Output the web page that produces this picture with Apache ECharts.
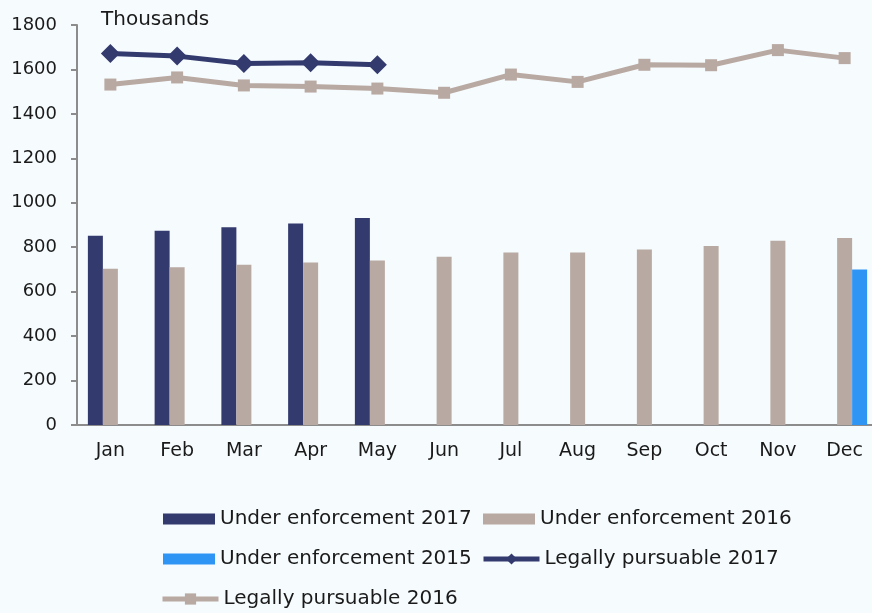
<!DOCTYPE html>
<html>
<head>
<meta charset="utf-8">
<script src="https://cdn.jsdelivr.net/npm/echarts@6/dist/echarts.min.js"></script>
<style>
  html, body { margin: 0; padding: 0; background: #f6fbfe; overflow: hidden; }
  #chart { width: 878px; height: 613px; }
</style>
</head>
<body>
<div id="chart"></div>
<script>
var months = ['Jan', 'Feb', 'Mar', 'Apr', 'May', 'Jun', 'Jul', 'Aug', 'Sep', 'Oct', 'Nov', 'Dec'];
var yTicks = [0, 200, 400, 600, 800, 1000, 1200, 1400, 1600, 1800];

var enforce2017 = [852, 874, 890, 907, 932, null, null, null, null, null, null, null];
var enforce2016 = [703, 710, 721, 731, 740, 757, 776, 776, 790, 806, 829, 841];
var enforce2015 = [null, null, null, null, null, null, null, null, null, null, null, 700];
var legal2017 = [1672, 1660, 1627, 1630, 1621, null, null, null, null, null, null, null];
var legal2016 = [1532, 1564, 1528, 1523, 1514, 1495, 1577, 1544, 1621, 1619, 1687, 1651];

var navy = '#333a6e';
var beige = '#b8a9a2';
var blue = '#2e95f5';
var font = 'DejaVu Sans';

var chart = echarts.init(document.getElementById('chart'));

// one legend per item so each sits where the original puts it
function legendAt(name, left, top, isLine) {
  var lg = {
    data: [isLine ? { name: name, lineStyle: { width: 5 } } : name],
    left: left,
    top: top,
    itemWidth: isLine ? 56 : 52,
    itemHeight: isLine ? 14 : 11,
    itemGap: 0,
    padding: 0,
    textStyle: { fontFamily: font, fontSize: 20, color: '#1a1a1a' }
  };
  if (!isLine) lg.icon = 'rect';
  return lg;
}

chart.setOption({
  backgroundColor: '#f6fbfe',
  animation: false,
  title: {
    text: 'Thousands',
    left: 96,
    top: 5,
    textStyle: { fontFamily: font, fontSize: 20, fontWeight: 'normal', color: '#1a1a1a' }
  },
  legend: [
    legendAt('Under enforcement 2017', 163, 509, false),
    legendAt('Under enforcement 2016', 483, 509, false),
    legendAt('Under enforcement 2015', 163, 549, false),
    legendAt('Legally pursuable 2017', 481, 549, true),
    legendAt('Legally pursuable 2016', 160, 589, true)
  ],
  grid: { left: 77, right: 0, top: 25, bottom: 188 },
  xAxis: {
    type: 'category',
    data: months,
    axisLine: { lineStyle: { color: '#8c8c8c', width: 2 } },
    axisTick: { show: false },
    axisLabel: { fontFamily: font, fontSize: 19, color: '#1a1a1a', margin: 17 }
  },
  yAxis: {
    type: 'value',
    min: yTicks[0],
    max: yTicks[yTicks.length - 1],
    interval: 200,
    axisLine: { show: true, lineStyle: { color: '#8c8c8c', width: 2 } },
    axisTick: { show: true, length: 6, lineStyle: { color: '#8c8c8c', width: 2 } },
    splitLine: { show: false },
    axisLabel: {
      fontFamily: font, fontSize: 18, color: '#1a1a1a', margin: 20,
      formatter: function (v) { return String(v); }
    }
  },
  series: [
    {
      name: 'Under enforcement 2017',
      type: 'bar',
      data: enforce2017,
      barWidth: 15,
      barGap: '0%',
      itemStyle: { color: navy }
    },
    {
      name: 'Under enforcement 2016',
      type: 'bar',
      data: enforce2016,
      barWidth: 15,
      barGap: '0%',
      itemStyle: { color: beige }
    },
    {
      name: 'Under enforcement 2015',
      type: 'bar',
      data: enforce2015,
      barWidth: 15,
      barGap: '0%',
      itemStyle: { color: blue }
    },
    {
      name: 'Legally pursuable 2017',
      type: 'line',
      data: legal2017,
      symbol: 'diamond',
      symbolSize: 19,
      lineStyle: { color: navy, width: 5 },
      itemStyle: { color: navy }
    },
    {
      name: 'Legally pursuable 2016',
      type: 'line',
      data: legal2016,
      symbol: 'rect',
      symbolSize: 12,
      lineStyle: { color: beige, width: 5 },
      itemStyle: { color: beige }
    }
  ]
});
</script>
</body>
</html>
